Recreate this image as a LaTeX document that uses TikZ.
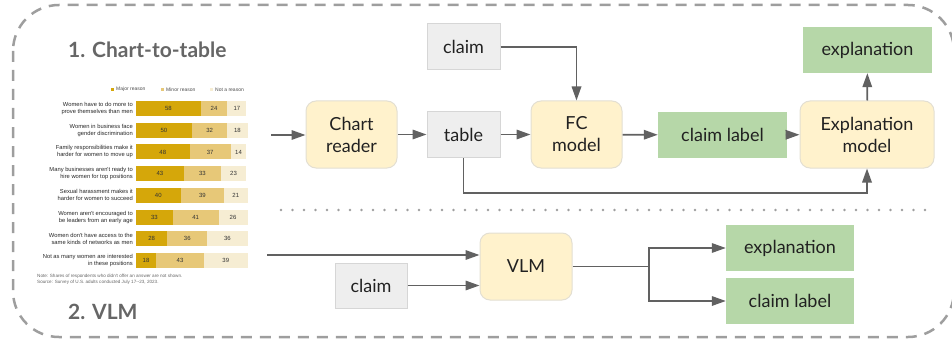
\documentclass[tikz,border=0pt]{standalone}
\usepackage{fontspec}
\setmainfont{Lato}
\newfontfamily\chartfont{Liberation Sans}
\usepackage{tikz}
\usetikzlibrary{arrows.meta}

\definecolor{procfill}{HTML}{FFF2CC}
\definecolor{procline}{HTML}{E3DFD2}
\definecolor{datafill}{HTML}{EEEEEE}
\definecolor{dataline}{HTML}{D6D6D6}
\definecolor{outfill}{HTML}{B6D7A8}
\definecolor{arrgray}{HTML}{616161}
\definecolor{framegray}{HTML}{9E9E9E}
\definecolor{majorc}{HTML}{D5A70A}
\definecolor{minorc}{HTML}{E7C878}
\definecolor{notc}{HTML}{F6EDD3}

\tikzset{
  box/.style={inner sep=0pt, font=\fontsize{18}{22}\selectfont, text=black!87, align=center},
  procbox/.style={box, draw=procline, line width=1pt, fill=procfill, rounded corners=10pt,
    minimum width=91pt, minimum height=67pt},
  databox/.style={box, draw=dataline, line width=1pt, fill=datafill,
    minimum width=73pt, minimum height=46pt},
  outbox/.style={box, fill=outfill, minimum width=129pt, minimum height=46pt},
  arr/.style={draw=arrgray, line width=1.7pt, -{Triangle[length=14pt,width=9.5pt]}},
  heading/.style={anchor=west, inner sep=0pt, text=black!60, font=\fontsize{21}{24}\selectfont\bfseries},
  rowlab/.style={anchor=east, inner sep=0pt, align=right, text=black!85,
    font=\chartfont\fontsize{5.8}{7}\selectfont},
  num/.style={inner sep=0pt, text=black!80, font=\chartfont\fontsize{6}{7}\selectfont},
  legend/.style={anchor=west, inner sep=0pt, text=black!70, font=\chartfont\fontsize{5}{6}\selectfont},
}

\begin{document}
\begin{tikzpicture}[x=1pt, y=-1pt]
  \useasboundingbox (0,0) rectangle (952,342);
  % outer frame and separator
  \draw[framegray, line width=2.5pt, dash pattern=on 11pt off 8pt, rounded corners=46pt] (13,5) rectangle (954,337);
  \draw[framegray, line width=2.6pt, line cap=round, dash pattern=on 0pt off 11.5pt] (281,210) -- (925,210);

  \node[heading] (head1) at (68,50) {1. Chart-to-table};
  \node[heading] (head2) at (68,312) {2. VLM};

  % chart
  \fill[majorc] (111,87.8) rectangle ++(3.4,3.4);
  \node[legend] (leg1) at (116,89.5) {Major reason};
  \fill[minorc] (161,87.8) rectangle ++(3.4,3.4);
  \node[legend] (leg2) at (166,89.5) {Minor reason};
  \fill[notc] (210,87.8) rectangle ++(3.4,3.4);
  \node[legend] (leg3) at (215,89.5) {Not a reason};
  \foreach \i/\a/\b/\c/\txt in {
      0/58/24/17/{Women have to do more to\\prove themselves than men},
      1/50/32/18/{Women in business face\\gender discrimination},
      2/48/37/14/{Family responsibilities make it\\harder for women to move up},
      3/43/33/23/{Many businesses aren't ready to\\hire women for top positions},
      4/40/39/21/{Sexual harassment makes it\\harder for women to succeed},
      5/33/41/26/{Women aren't encouraged to\\be leaders from an early age},
      6/28/36/36/{Women don't have access to the\\same kinds of networks as men},
      7/18/43/39/{Not as many women are interested\\in these positions}}{
    \pgfmathsetmacro\yt{101+21.7*\i}
    \pgfmathsetmacro\xa{136+1.115*\a}
    \pgfmathsetmacro\xb{\xa+1.115*\b}
    \pgfmathsetmacro\xc{\xb+1.115*\c}
    \fill[majorc] (136,\yt) rectangle (\xa,\yt+15);
    \fill[minorc] (\xa,\yt) rectangle (\xb,\yt+15);
    \fill[notc] (\xb,\yt) rectangle (\xc,\yt+15);
    \node[num] (ma\i) at ({(136+\xa)/2},\yt+7.7) {\a};
    \node[num] (mi\i) at ({(\xa+\xb)/2},\yt+7.7) {\b};
    \node[num] (no\i) at ({(\xb+\xc)/2},\yt+7.7) {\c};
    \node[rowlab] (row\i) at (133,\yt+7.5) {\txt};
  }
  \node[anchor=west, inner sep=0pt, align=left, text=black!60, font=\chartfont\fontsize{4.6}{5.8}\selectfont] (note) at (37,279)
    {Note: Shares of respondents who didn't offer an answer are not shown.\\Source: Survey of U.S. adults conducted July 17--23, 2023.};
  \coordinate (chartA) at (271,135);
  \coordinate (chartB) at (267,255);

  % chart-to-table pipeline
  \node[procbox] (reader) at (351.5,134.5) {Chart\\reader};
  \node[databox] (table) at (463.5,134.5) {table};
  \node[databox] (claimA) at (463.5,47) {claim};
  \node[procbox] (fc) at (576.5,134.5) {FC\\model};
  \node[outbox] (labelA) at (722.5,135) {claim label};
  \node[procbox, minimum width=134pt] (explm) at (867,134.5) {Explanation\\model};
  \node[outbox] (explA) at (867.5,50) {explanation};

  \draw[arr] (chartA) -- (chartA -| reader.west);
  \draw[arr] (reader) -- (table);
  \draw[arr] (table) -- (fc);
  \draw[arr] (claimA) -| (fc);
  \draw[arr] (fc) -- (labelA);
  \draw[arr] (labelA) -- (explm);
  \draw[arr] (explm) -- (explA);
  \draw[arr] (table.south) -- ++(0,35) -| (explm.south);

  % VLM pipeline
  \node[procbox, minimum width=92pt] (vlm) at (526,266.5) {VLM};
  \node[databox, minimum width=72pt, minimum height=45pt] (claimB) at (371,285.5) {claim};
  \node[outbox, minimum width=128pt] (explB) at (790,248) {explanation};
  \node[outbox, minimum width=128pt] (labelB) at (790,301) {claim label};
  \coordinate (split) at (649,266.5);

  \draw[arr] (chartB) -- (chartB -| vlm.west);
  \draw[arr] (claimB) -- (claimB -| vlm.west);
  \draw[arrgray, line width=1.7pt] (vlm) -- (split);
  \draw[arr] (split) |- (explB);
  \draw[arr] (split) |- (labelB);
\end{tikzpicture}
\end{document}
